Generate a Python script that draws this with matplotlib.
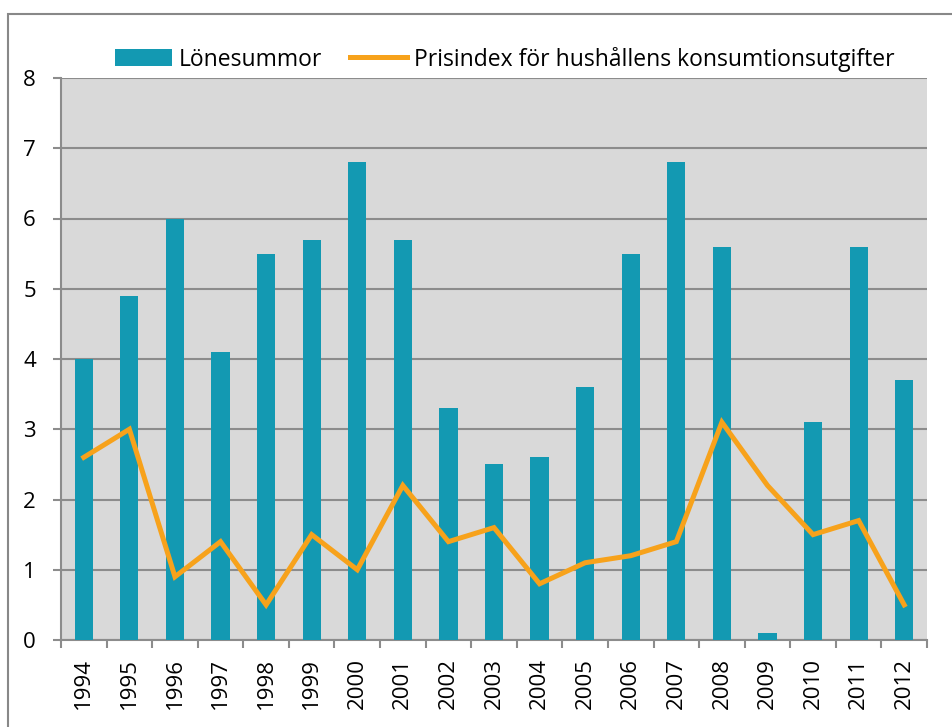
import matplotlib.pyplot as plt
import matplotlib.patches as mpatches
import numpy as np

years = ['1994', '1995', '1996', '1997', '1998', '1999', '2000', '2001', '2002', '2003',
         '2004', '2005', '2006', '2007', '2008', '2009', '2010', '2011', '2012']
lonesummor = [4.0, 4.9, 6.0, 4.1, 5.5, 5.7, 6.8, 5.7, 3.3, 2.5,
              2.6, 3.6, 5.5, 6.8, 5.6, 0.1, 3.1, 5.6, 3.7]
prisindex = [2.6, 3.0, 0.9, 1.4, 0.5, 1.5, 1.0, 2.2, 1.4, 1.6,
             0.8, 1.1, 1.2, 1.4, 3.1, 2.2, 1.5, 1.7, 0.5]

plt.rcParams['font.family'] = ['Open Sans', 'DejaVu Sans']

fig = plt.figure(figsize=(9.52, 7.27), dpi=100)
# frame around the chart
fig.patches.append(mpatches.Rectangle((8/952, -0.05), 1.2, 1 - 14/727 + 0.05,
                                      transform=fig.transFigure, fill=False,
                                      edgecolor='#888888', linewidth=1.5))
ax = fig.add_axes([61/952, 1 - 640/727, 866/952, 562/727])
ax.set_facecolor('#D9D9D9')

x = np.arange(len(years))
bars = ax.bar(x, lonesummor, width=0.4, color='#1399B2', label='Lönesummor', zorder=3)
line, = ax.plot(x, prisindex, color='#F7A21B', linewidth=3.6, solid_joinstyle='miter',
                label='Prisindex för hushållens konsumtionsutgifter', zorder=4)

ax.set_xlim(-0.5, len(years) - 0.5)
ax.set_ylim(0, 8)
ax.set_yticks(range(0, 9))
ax.yaxis.grid(True, color='#8C8C8C', linewidth=1.5, zorder=1)
ax.set_axisbelow(True)

ax.set_xticks(np.arange(-0.5, len(years)), minor=False)
ax.set_xticklabels([])
ax.set_xticks(x, minor=True)
ax.set_xticklabels(years, minor=True, rotation=90, fontsize=16)
ax.tick_params(axis='x', which='major', length=6, width=1.5, color='#8C8C8C', direction='out')
ax.tick_params(axis='x', which='minor', length=0, pad=13)
ax.tick_params(axis='y', length=6, width=1.5, color='#8C8C8C', labelsize=16, pad=12)

for s in ['top', 'right']:
    ax.spines[s].set_visible(False)
for s in ['left', 'bottom']:
    ax.spines[s].set_color('#8C8C8C')
    ax.spines[s].set_linewidth(1.5)

fig.legend(handles=[bars, line], loc='center', bbox_to_anchor=(0.53, 1 - 59/727), ncol=2,
           frameon=False, fontsize=16.5, handlelength=2.5, handletextpad=0.3,
           columnspacing=1.2)

fig.savefig('out.png', dpi=100)
